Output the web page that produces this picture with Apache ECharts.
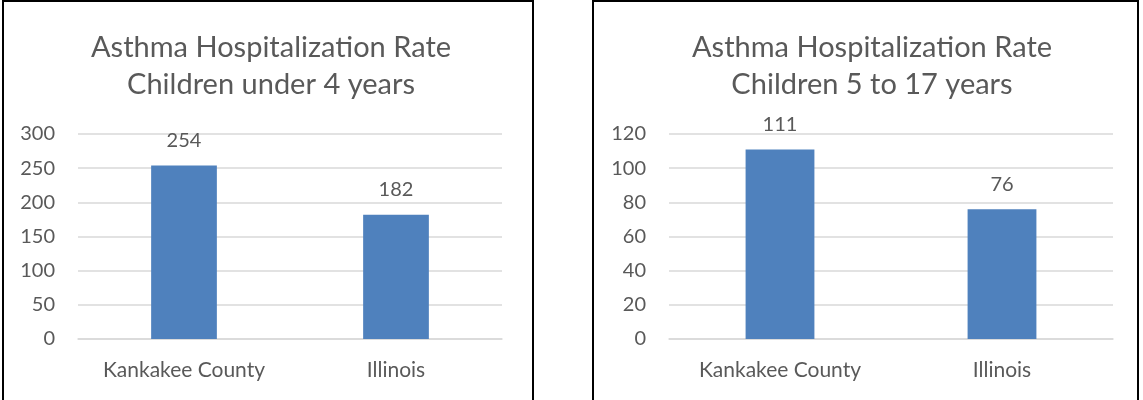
<!DOCTYPE html>
<html>
<head>
<meta charset="utf-8">
<script src="https://cdn.jsdelivr.net/npm/echarts@6/dist/echarts.min.js"></script>
<style>
  html, body { margin: 0; padding: 0; background: #fff; }
  #main { width: 1143px; height: 400px; }
</style>
</head>
<body>
<div id="main"></div>
<script>
const categories = ['Kankakee County', 'Illinois'];
const ratesUnder4 = [254, 182];
const rates5to17 = [111, 76];
const titles = [
    'Asthma Hospitalization Rate\nChildren under 4 years',
    'Asthma Hospitalization Rate\nChildren 5 to 17 years'
];
const yMax = [300, 120];
const yStep = [50, 20];

const textColor = '#595959';
const font = 'Lato';

const chart = echarts.init(document.getElementById('main'));

const valueLabel = {
    show: true,
    position: 'top',
    distance: 15,
    color: textColor,
    fontFamily: font,
    fontSize: 20
};

const makeX = (idx) => ({
    type: 'category',
    gridIndex: idx,
    data: categories,
    axisTick: { show: false },
    axisLine: { lineStyle: { color: '#D9D9D9', width: 1.5 } },
    axisLabel: { color: textColor, fontFamily: font, fontSize: 21, margin: 21 }
});

const makeY = (idx) => ({
    type: 'value',
    gridIndex: idx,
    min: 0,
    max: yMax[idx],
    interval: yStep[idx],
    axisLine: { show: false },
    axisTick: { show: false },
    splitLine: { lineStyle: { color: '#D9D9D9', width: 1.5 } },
    axisLabel: { color: textColor, fontFamily: font, fontSize: 20, margin: 23 }
});

const option = {
    animation: false,
    title: [
        {
            text: titles[0], left: 266, top: 24, textAlign: 'center',
            textStyle: { color: textColor, fontFamily: font, fontSize: 29, fontWeight: 'normal', lineHeight: 37 }
        },
        {
            text: titles[1], left: 867, top: 24, textAlign: 'center',
            textStyle: { color: textColor, fontFamily: font, fontSize: 29, fontWeight: 'normal', lineHeight: 37 }
        }
    ],
    grid: [
        { left: 78, width: 424, top: 134, bottom: 61 },
        { left: 669, width: 444, top: 134, bottom: 61 }
    ],
    xAxis: [makeX(0), makeX(1)],
    yAxis: [makeY(0), makeY(1)],
    graphic: [
        { type: 'rect', shape: { x: 3, y: 1, width: 530, height: 420 }, style: { fill: 'none', stroke: '#000', lineWidth: 2 } },
        { type: 'rect', shape: { x: 593, y: 1, width: 545, height: 420 }, style: { fill: 'none', stroke: '#000', lineWidth: 2 } }
    ],
    series: [
        {
            type: 'bar', xAxisIndex: 0, yAxisIndex: 0,
            data: ratesUnder4, barWidth: '31%',
            itemStyle: { color: '#4F81BD' },
            label: valueLabel
        },
        {
            type: 'bar', xAxisIndex: 1, yAxisIndex: 1,
            data: rates5to17, barWidth: '31%',
            itemStyle: { color: '#4F81BD' },
            label: valueLabel
        }
    ]
};

chart.setOption(option);

window.addEventListener('resize', _ => {
    chart.resize();
});
</script>
</body>
</html>
